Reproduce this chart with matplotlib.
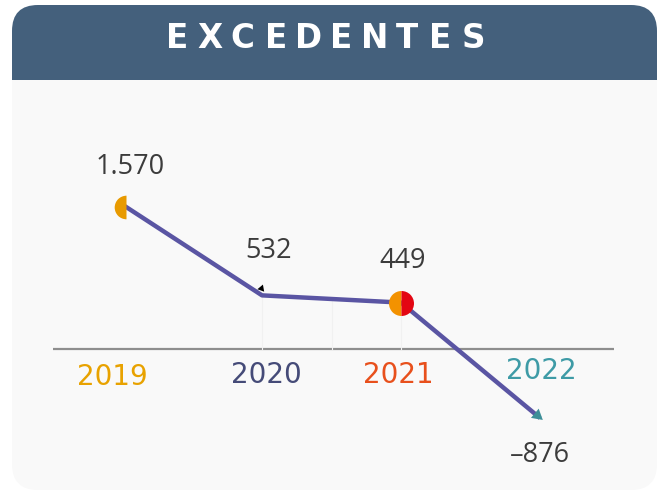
import matplotlib.pyplot as plt
from matplotlib.patches import FancyBboxPatch, Rectangle
from matplotlib.transforms import offset_copy

## Data
years = ["2019", "2020", "2021", "2022"]
values = [1570, 532, 449, -876]
labels = ["1.570", "532", "449", "\u2013876"]
year_colors = ["#e8a200", "#454b78", "#e8501c", "#3e9ba6"]
title = "EXCEDENTES"

fig = plt.figure(figsize=(6.64, 4.91), dpi=100)

# background panel, drawn in pixel units (y up)
bg = fig.add_axes([0, 0, 1, 1])
bg.set_xlim(0, 664)
bg.set_ylim(0, 491)
bg.axis("off")
bg.add_patch(FancyBboxPatch((12, 1), 645, 485, boxstyle="round,pad=0,rounding_size=26",
                            fc="#f9f9f9", ec="none"))
bg.add_patch(FancyBboxPatch((12, 411), 645, 75, boxstyle="round,pad=0,rounding_size=26",
                            fc="#44607c", ec="none"))
bg.add_patch(Rectangle((12, 411), 645, 40, fc="#44607c", ec="none"))

# spaced title letters
step = (473 - 177) / (len(title) - 1)
for i, ch in enumerate(title):
    bg.text(177 + i * step, 491 - 38, ch, color="white", fontsize=23.5, fontweight="bold",
            ha="center", va="center", family="DejaVu Sans")

# chart axes
ax = fig.add_axes([12 / 664, 1 / 491, 645 / 664, 410 / 491])
ax.set_xlim(-0.799, 3.842)
ax.set_ylim(-1703, 3005)
ax.axis("off")
ax.patch.set_alpha(0)

x = list(range(len(years)))

# baseline
ax.plot([-0.504, 3.532], [-80, -80], color="#8e8e8e", lw=1.6, solid_capstyle="butt", zorder=1)

# faint guides
for gx, gy in [(1, values[1]), (1.5, (values[1] + values[2]) / 2), (2, values[2])]:
    ax.plot([gx, gx], [-80, gy], color="#f1f1f1", lw=0.8, zorder=1)

ax.plot(x, values, color="#5a55a3", lw=3.2, solid_capstyle="butt", zorder=3)

# markers
ax.plot(x[0], values[0], marker="o", ms=17, fillstyle="left", mfc="#e89a00",
        mfcalt="none", mec="none", zorder=4,
        transform=offset_copy(ax.transData, fig, x=3, y=-2, units="dots"))
ax.plot(x[1], values[1], marker=(3, 0, 100), ms=6, color="black", mec="none", zorder=4,
        transform=offset_copy(ax.transData, fig, x=-1, y=7, units="dots"))
ax.plot(x[2], values[2], marker="o", ms=18, fillstyle="left", mfc="#f39200",
        mfcalt="#e30613", mec="none", zorder=4)
ax.plot(x[3], values[3], marker=(3, 0, -130), ms=10, color="#3d8f98", mec="none", zorder=4,
        transform=offset_copy(ax.transData, fig, x=-3, y=3, units="dots"))

# value labels
offsets = [(5, 27), (5, 32), (1, 30), (0, -27)]
for xi, v, lab, off in zip(x, values, labels, offsets):
    ax.annotate(lab, (xi, v), xytext=off, textcoords="offset points", ha="center",
                va="center", fontsize=19.5, color="#3c3c3c", family="Open Sans")

# year labels
year_x = [-0.08, 1.03, 1.98, 3.01]
year_y = [-405, -380, -380, -335]
for xi, yi, yr, c in zip(year_x, year_y, years, year_colors):
    ax.text(xi, yi, yr, ha="center", va="center", fontsize=20, color=c,
            family="DejaVu Sans", fontweight="medium")

fig.savefig("out.png", dpi=100, facecolor="white")
